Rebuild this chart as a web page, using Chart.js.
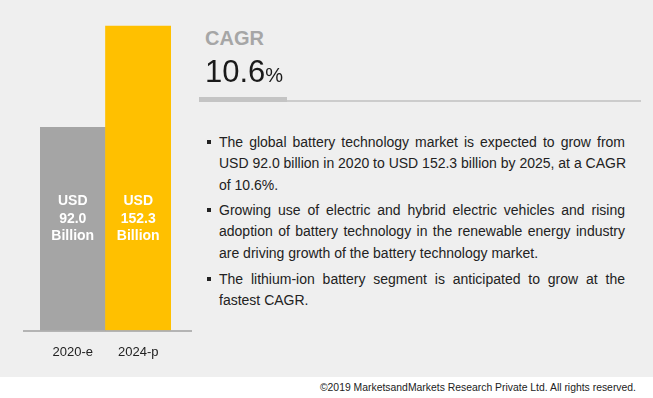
<!DOCTYPE html>
<html>
<head>
<meta charset="utf-8">
<script src="https://cdn.jsdelivr.net/npm/chart.js@4.4.1/dist/chart.umd.min.js"></script>
<style>
  html, body { margin: 0; padding: 0; width: 653px; height: 398px; background: #ffffff; overflow: hidden; }
  #panel { position: absolute; left: 0; top: 0; width: 653px; height: 377px; background: #efefef; }
  #chartBox { position: absolute; left: 0; top: 0; width: 200px; height: 377px; }
  .narrow { font-family: "Liberation Sans Narrow", "Liberation Sans", Arial, sans-serif; }
  #cagrLabel { position: absolute; left: 205px; top: 28px; font-size: 20px; line-height: 20px; font-weight: bold; color: #a6a6a6; }
  #cagrValue { position: absolute; left: 205px; top: 56px; font-size: 31px; line-height: 31px; color: #1a1a1a; }
  #cagrValue span { font-size: 20px; }
  #thick { position: absolute; left: 199px; top: 97px; width: 88px; height: 5px; background: #c4c4c4; }
  #thin { position: absolute; left: 287px; top: 100px; width: 354px; height: 2px; background: #cccccc; }
  .bullet { position: absolute; left: 219px; width: 406px; font-size: 14px; color: #222; }
  .bullet .ln { height: 21.3px; line-height: 21.3px; text-align: justify; text-align-last: justify; white-space: nowrap; }
  .bullet .ln.last { text-align-last: left; }
  .bullet .sq { position: absolute; left: -12px; top: 8px; width: 4px; height: 4px; background: #222; }
  #copy { position: absolute; right: 17px; top: 382px; font-family: "Liberation Sans", Arial, sans-serif; font-size: 10.4px; color: #222; }
</style>
</head>
<body>
<div id="panel"></div>
<div id="chartBox"><canvas id="BarChart" width="200" height="377"></canvas></div>

<div id="cagrLabel" class="narrow">CAGR</div>
<div id="cagrValue" class="narrow">10.6<span>%</span></div>
<div id="thick"></div>
<div id="thin"></div>

<div class="bullet narrow" style="top:132px">
  <div class="sq"></div>
  <div class="ln">The global battery technology market is expected to grow from</div>
  <div class="ln">USD 92.0 billion in 2020 to USD 152.3 billion by 2025, at a CAGR</div>
  <div class="ln last">of 10.6%.</div>
</div>
<div class="bullet narrow" style="top:200px">
  <div class="sq"></div>
  <div class="ln">Growing use of electric and hybrid electric vehicles and rising</div>
  <div class="ln">adoption of battery technology in the renewable energy industry</div>
  <div class="ln last">are driving growth of the battery technology market.</div>
</div>
<div class="bullet narrow" style="top:269px">
  <div class="sq"></div>
  <div class="ln">The lithium-ion battery segment is anticipated to grow at the</div>
  <div class="ln last">fastest CAGR.</div>
</div>

<div id="copy">©2019 MarketsandMarkets Research Private Ltd. All rights reserved.</div>

<script>
const categories = ['2020-e', '2024-p'];
const marketValues = [92.0, 152.3];
const barColors = ['#a5a5a5', '#ffc000'];
const valueUnit = 'USD';
const valueScale = 'Billion';

const axisMin = -28.6;
const axisMax = 160;

// baseline wider than the bars + text inside each bar
const barDecor = {
  id: 'barDecor',
  afterDatasetsDraw(chart) {
    const ctx = chart.ctx;
    const area = chart.chartArea;
    ctx.save();
    ctx.strokeStyle = '#a0a0a0';
    ctx.lineWidth = 1.5;
    ctx.beginPath();
    ctx.moveTo(area.left - 17, area.bottom + 0.5);
    ctx.lineTo(area.right + 21, area.bottom + 0.5);
    ctx.stroke();

    const meta = chart.getDatasetMeta(0);
    ctx.fillStyle = '#ffffff';
    ctx.font = 'bold 14px "Liberation Sans Narrow", "Liberation Sans", Arial, sans-serif';
    ctx.textAlign = 'center';
    ctx.textBaseline = 'middle';
    meta.data.forEach((bar, i) => {
      const lines = [valueUnit, marketValues[i].toFixed(1), valueScale];
      lines.forEach((t, j) => {
        ctx.fillText(t, bar.x, area.bottom - 129 + j * 17.5);
      });
    });
    ctx.restore();
  }
};

const dataBar = {
  labels: categories,
  datasets: [{
    data: marketValues,
    backgroundColor: barColors,
    borderWidth: 0,
    base: axisMin,
    barPercentage: 1,
    categoryPercentage: 1,
  }]
};

const configBar = {
  type: 'bar',
  data: dataBar,
  options: {
    responsive: false,
    animation: false,
    devicePixelRatio: 1,
    layout: { padding: { left: 40, right: 29, top: 13, bottom: 11 } },
    plugins: { legend: { display: false }, tooltip: { enabled: false } },
    scales: {
      x: {
        grid: { display: false },
        border: { display: false },
        ticks: {
          color: '#222',
          padding: 6,
          font: { size: 13, family: '"Liberation Sans", Arial, sans-serif' }
        }
      },
      y: { display: false, min: axisMin, max: axisMax }
    }
  },
  plugins: [barDecor]
};

const barChart = new Chart(
  document.getElementById('BarChart'),
  configBar
);
</script>
</body>
</html>
